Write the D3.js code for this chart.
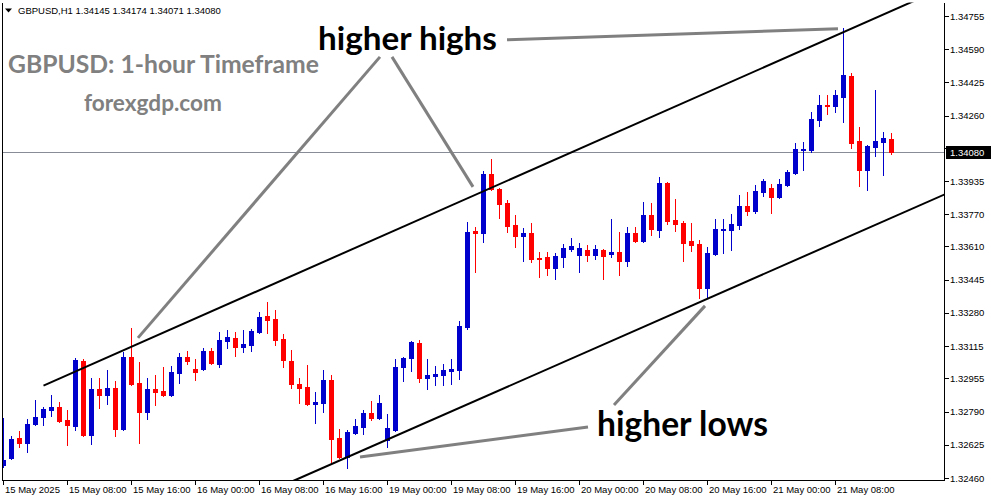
<!DOCTYPE html>
<html><head><meta charset="utf-8">
<script src="https://cdn.jsdelivr.net/npm/d3@7"></script>
<style>html,body{margin:0;padding:0;background:#fff;overflow:hidden}svg{display:block}</style>
</head><body><div id="chart"></div>
<script>
const opens=[1.32525,1.32559,1.32659,1.32634,1.32728,1.32763,1.32798,1.32813,1.32748,1.32718,
1.33041,1.32674,1.32902,1.32873,1.32907,1.32704,1.33061,1.32932,1.32788,1.32902,
1.32892,1.32873,1.32982,1.33061,1.33002,1.33002,1.33091,1.33027,1.33141,1.33156,
1.33111,1.33121,1.33186,1.33265,1.33250,1.33151,1.33041,1.32927,1.32912,1.32828,
1.32833,1.32947,1.32659,1.32564,1.32684,1.32713,1.32783,1.32758,1.32649,1.32699,
1.33012,1.33056,1.33131,1.32957,1.32967,1.32972,1.32992,1.32997,1.33210,1.33688,
1.33678,1.33971,1.33896,1.33827,1.33717,1.33663,1.33678,1.33553,1.33558,1.33504,
1.33558,1.33598,1.33568,1.33593,1.33568,1.33593,1.33573,1.33583,1.33538,1.33678,
1.33638,1.33767,1.33693,1.33926,1.33742,1.33727,1.33638,1.33623,1.33404,1.33573,
1.33693,1.33693,1.33717,1.33812,1.33787,1.33881,1.33901,1.33857,1.33916,1.33976,
1.34090,1.34090,1.34239,1.34314,1.34309,1.34354,1.34458,1.34135,1.33991,1.34105,
1.34130,1.34145];
const highs=[1.32758,1.32669,1.32694,1.32753,1.32848,1.32813,1.32873,1.32838,1.32798,1.33056,
1.33051,1.32957,1.32957,1.32997,1.32942,1.33086,1.33206,1.33037,1.32957,1.32972,
1.33012,1.33017,1.33081,1.33091,1.33051,1.33106,1.33106,1.33186,1.33196,1.33186,
1.33196,1.33201,1.33285,1.33335,1.33295,1.33176,1.33096,1.32957,1.33022,1.32887,
1.32997,1.32972,1.32704,1.32699,1.32753,1.32798,1.32843,1.32873,1.32778,1.33051,
1.33061,1.33141,1.33146,1.33051,1.33017,1.33027,1.33051,1.33240,1.33732,1.33707,
1.33986,1.34045,1.33901,1.33842,1.33767,1.33703,1.33727,1.33583,1.33583,1.33578,
1.33623,1.33653,1.33628,1.33618,1.33618,1.33598,1.33747,1.33683,1.33707,1.33707,
1.33832,1.33827,1.33956,1.33931,1.33847,1.33737,1.33727,1.33643,1.33608,1.33747,
1.33747,1.33772,1.33867,1.33881,1.33916,1.33946,1.33921,1.33946,1.33991,1.34125,
1.34130,1.34279,1.34364,1.34364,1.34388,1.34697,1.34473,1.34204,1.34115,1.34388,
1.34180,1.34174];
const lows=[1.32515,1.32554,1.32614,1.32589,1.32723,1.32723,1.32768,1.32738,1.32624,1.32699,
1.32669,1.32629,1.32808,1.32828,1.32669,1.32699,1.32922,1.32634,1.32753,1.32823,
1.32868,1.32868,1.32932,1.33027,1.32947,1.32997,1.33027,1.33012,1.33106,1.33066,
1.33086,1.33091,1.33181,1.33181,1.33121,1.33012,1.32907,1.32833,1.32823,1.32733,
1.32788,1.32540,1.32559,1.32510,1.32679,1.32679,1.32748,1.32753,1.32614,1.32694,
1.32942,1.32992,1.32937,1.32902,1.32922,1.32922,1.32927,1.32952,1.33201,1.33484,
1.33633,1.33891,1.33752,1.33683,1.33608,1.33538,1.33534,1.33459,1.33469,1.33449,
1.33509,1.33588,1.33484,1.33538,1.33548,1.33449,1.33558,1.33469,1.33514,1.33633,
1.33633,1.33668,1.33658,1.33722,1.33688,1.33538,1.33588,1.33355,1.33355,1.33568,
1.33578,1.33593,1.33698,1.33767,1.33777,1.33862,1.33777,1.33852,1.33911,1.33971,
1.33991,1.34080,1.34209,1.34269,1.34279,1.34229,1.34100,1.33911,1.33891,1.34060,
1.33966,1.34071];
const closes=[1.32549,1.32654,1.32634,1.32728,1.32763,1.32803,1.32813,1.32743,1.32723,1.33046,
1.32674,1.32902,1.32873,1.32907,1.32704,1.33061,1.32927,1.32788,1.32902,1.32887,
1.32873,1.32987,1.33061,1.33041,1.32987,1.33091,1.33032,1.33146,1.33161,1.33111,
1.33126,1.33191,1.33260,1.33245,1.33146,1.33046,1.32927,1.32907,1.32828,1.32838,
1.32947,1.32654,1.32564,1.32689,1.32718,1.32783,1.32758,1.32833,1.32709,1.33012,
1.33056,1.33136,1.32957,1.32972,1.32977,1.32997,1.33002,1.33215,1.33683,1.33678,
1.33971,1.33896,1.33822,1.33712,1.33663,1.33678,1.33548,1.33548,1.33504,1.33563,
1.33603,1.33613,1.33603,1.33568,1.33598,1.33563,1.33583,1.33538,1.33678,1.33638,
1.33767,1.33698,1.33926,1.33737,1.33722,1.33628,1.33618,1.33404,1.33578,1.33698,
1.33698,1.33722,1.33812,1.33787,1.33886,1.33936,1.33857,1.33921,1.33981,1.34095,
1.34095,1.34244,1.34314,1.34309,1.34364,1.34463,1.34125,1.33991,1.34110,1.34135,
1.34150,1.34080];
const timeLabels=["15 May 2025","15 May 08:00","15 May 16:00","16 May 00:00","16 May 08:00","16 May 16:00","19 May 00:00","19 May 08:00","19 May 16:00","20 May 00:00","20 May 08:00","20 May 16:00","21 May 00:00","21 May 08:00"];
const timeTickIdx=[0,8,16,24,32,40,48,56,64,72,80,88,96,104];
const priceTicks=[1.34755,1.34590,1.34425,1.34260,1.34100,1.33935,1.33770,1.33610,1.33445,1.33280,1.33115,1.32955,1.32790,1.32625,1.32460];
const lastPrice=1.34080;
const header="GBPUSD,H1  1.34145 1.34174 1.34071 1.34080";
const titleText="GBPUSD: 1-hour Timeframe";
const siteText="forexgdp.com";
// channel lines [index, price]
const upperChannel=[[5,1.32919],[114,1.34833]];
const lowerChannel=[[36.2,1.32445],[118,1.33875]];
// annotation pointer lines [index, price]
const hhPointers=[[[62.94,1.34637],[104.31,1.34692]],[[47.06,1.34552],[16.81,1.33156]],[[48.56,1.34552],[58.69,1.33906]]];
const hlPointers=[[[73.06,1.32713],[44.56,1.32564]],[[76.31,1.32823],[87.69,1.33315]]];

const W=991,H=501;
const L=2.5,R=944.5,T=2.5,B=480.5;
const x=d3.scaleLinear().domain([0,111]).range([3.5,891.5]);
const y=d3.scaleLinear().domain([1.32460,1.34755]).range([478,16]);
const BULL="#0000cd",BEAR="#ff0000";

const svg=d3.select("#chart").append("svg").attr("width",W).attr("height",H)
  .style("font-family","'Liberation Sans',Arial,sans-serif");
svg.append("rect").attr("width",W).attr("height",H).attr("fill","#fff");
svg.append("defs").append("clipPath").attr("id","plot").append("rect")
  .attr("x",L).attr("y",T).attr("width",R-L).attr("height",B-T);
const plot=svg.append("g").attr("clip-path","url(#plot)");

// current price line
plot.append("line").attr("x1",L).attr("x2",R).attr("y1",Math.round(y(lastPrice))+0.5).attr("y2",Math.round(y(lastPrice))+0.5)
  .attr("stroke","#878c96").attr("stroke-width",1);

const data=opens.map((o,i)=>({i,o,h:highs[i],l:lows[i],c:closes[i]}));
const cg=plot.append("g").attr("shape-rendering","crispEdges");
const cs=cg.selectAll("g").data(data).join("g");
const col=d=>d.c>=d.o?BULL:BEAR;
cs.append("line").attr("x1",d=>x(d.i)).attr("x2",d=>x(d.i))
  .attr("y1",d=>Math.round(y(d.h))).attr("y2",d=>Math.round(y(d.l))+1)
  .attr("stroke",col).attr("stroke-width",1);
cs.append("rect").attr("x",d=>x(d.i)-2.5).attr("width",5)
  .attr("y",d=>Math.round(y(Math.max(d.o,d.c))))
  .attr("height",d=>Math.max(1,Math.round(y(Math.min(d.o,d.c)))-Math.round(y(Math.max(d.o,d.c)))+1))
  .attr("fill",col);

const line=d3.line().x(d=>x(d[0])).y(d=>y(d[1]));
plot.append("path").attr("d",line(upperChannel)).attr("stroke","#000").attr("stroke-width",2).attr("fill","none");
plot.append("path").attr("d",line(lowerChannel)).attr("stroke","#000").attr("stroke-width",2).attr("fill","none");
hhPointers.concat(hlPointers).forEach(p=>{
  plot.append("path").attr("d",line(p)).attr("stroke","#808080").attr("stroke-width",3).attr("fill","none");
});

// frame
svg.append("path").attr("d",`M${L},${T}V${B}H${R}V${T}`).attr("stroke","#000").attr("fill","none").attr("shape-rendering","crispEdges");

function fit(t,w){const n=t.node();const len=n.getComputedTextLength();const fs=parseFloat(t.attr("font-size"));t.attr("font-size",fs*w/len);}

// texts
const t1=svg.append("text").attr("x",318).attr("y",50).attr("font-family","Lato,'Open Sans',sans-serif").attr("font-weight",700)
  .attr("font-size",30).attr("fill","#000").text("higher highs");
fit(t1,179);
const t2=svg.append("text").attr("x",597).attr("y",436).attr("font-family","Lato,'Open Sans',sans-serif").attr("font-weight",700)
  .attr("font-size",30).attr("fill","#000").text("higher lows");
fit(t2,171);
const t3=svg.append("text").attr("x",8).attr("y",73).attr("font-family","Lato,'Open Sans',sans-serif").attr("font-weight",700)
  .attr("font-size",22).attr("fill","#808080").text(titleText);
fit(t3,311);
const t4=svg.append("text").attr("x",84).attr("y",111).attr("font-family","Lato,'Open Sans',sans-serif").attr("font-weight",700)
  .attr("font-size",20).attr("fill","#808080").text(siteText);
fit(t4,138);

// header
svg.append("path").attr("d","M5,8.5H12L8.5,12.5Z").attr("fill","#000");
svg.append("text").attr("x",18).attr("y",14).attr("font-size",9.5).attr("fill","#000").text(header);

// right axis (the tick hidden under the current-price box keeps its mark only)
const ra=svg.append("g");
ra.selectAll("line").data(priceTicks).join("line")
  .attr("x1",R).attr("x2",R+4).attr("y1",d=>Math.round(y(d))+0.5).attr("y2",d=>Math.round(y(d))+0.5)
  .attr("stroke","#000").attr("shape-rendering","crispEdges");
const py=Math.round(y(lastPrice));
ra.selectAll("text").data(priceTicks.filter(d=>Math.abs(y(d)-py)>12)).join("text")
  .attr("x",950).attr("y",d=>y(d)+3.5).attr("font-size",9.5).attr("fill","#000").text(d=>d.toFixed(5));
svg.append("rect").attr("x",946).attr("y",py-6).attr("width",45).attr("height",13).attr("fill","#000");
svg.append("text").attr("x",950).attr("y",py+3.5).attr("font-size",9.5).attr("fill","#fff").text(lastPrice.toFixed(5));

// bottom axis
const ba=svg.append("g");
ba.selectAll("line").data(timeTickIdx).join("line")
  .attr("x1",d=>x(d)).attr("x2",d=>x(d)).attr("y1",B).attr("y2",B+4)
  .attr("stroke","#000").attr("shape-rendering","crispEdges");
ba.selectAll("text").data(timeTickIdx).join("text")
  .attr("x",d=>x(d)+1.5).attr("y",493).attr("font-size",9.5).attr("fill","#000").text((d,i)=>timeLabels[i]);
</script></body></html>
